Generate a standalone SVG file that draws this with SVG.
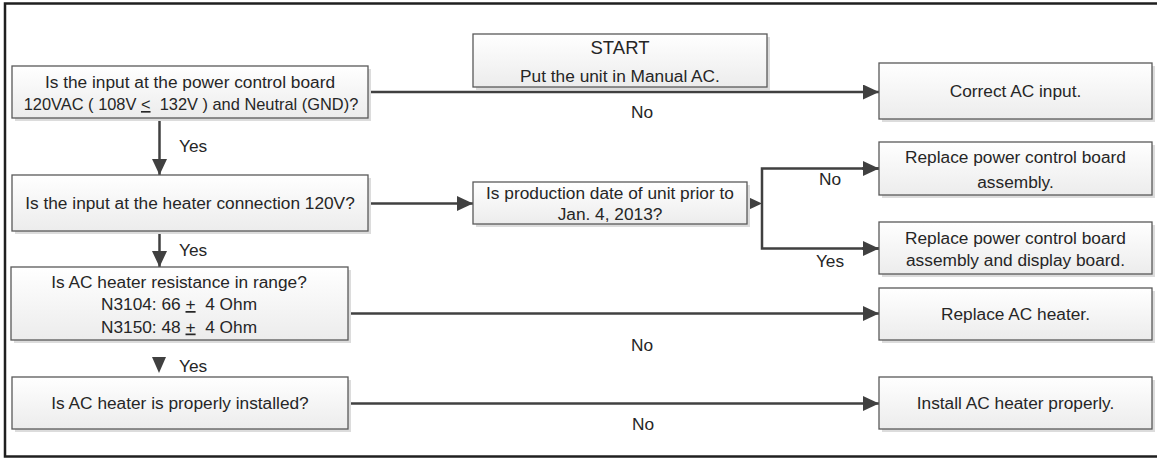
<svg xmlns="http://www.w3.org/2000/svg" width="1157" height="459" viewBox="0 0 1157 459">
<defs>
<linearGradient id="fillg" x1="0" y1="0" x2="0" y2="1">
<stop offset="0" stop-color="#ffffff"/>
<stop offset="1" stop-color="#ececec"/>
</linearGradient>
<marker id="arr" markerUnits="userSpaceOnUse" markerWidth="17" markerHeight="16" refX="16" refY="7.5" orient="auto">
<path d="M0,0 L16,7.5 L0,15 Z" fill="#404040"/>
</marker>
</defs>
<style>
.box{fill:url(#fillg);stroke:#595959;stroke-width:1.3}
.sh{fill:#dcdcdc}
text{font-family:"Liberation Sans",Arial,sans-serif;font-size:17.3px;fill:#262626;text-anchor:middle;white-space:pre}
.lbl{text-anchor:start}
.big{font-size:18.5px}
.sm{font-size:16.4px}
.ln{fill:none;stroke:#404040;stroke-width:2.5}
.u{text-decoration:underline}
</style>
<rect x="5" y="3.5" width="1170" height="453" fill="#ffffff" stroke="#1f1f1f" stroke-width="2.5"/>

<g id="connectors">
<path class="ln" d="M368,92 H879" marker-end="url(#arr)"/>
<path class="ln" d="M159.5,118 V175" marker-end="url(#arr)"/>
<path class="ln" d="M368,203.5 H473" marker-end="url(#arr)"/>
<path class="ln" d="M159.5,231 V267" marker-end="url(#arr)"/>
<path d="M747,196.5 L762,203.5 L747,210.5 Z" fill="#404040"/>
<path class="ln" d="M879,168.5 H762 V248.5 H879"/>
<path class="ln" d="M862,168.5 H879" marker-end="url(#arr)"/>
<path class="ln" d="M862,248.5 H879" marker-end="url(#arr)"/>
<path class="ln" d="M347.5,313.5 H879" marker-end="url(#arr)"/>
<path d="M152,357 L166,357 L159,373 Z" fill="#404040"/>
<path class="ln" d="M347.5,403.5 H879" marker-end="url(#arr)"/>
<text x="642" y="118">No</text>
<text class="lbl" x="179" y="152">Yes</text>
<text class="lbl" x="179" y="256">Yes</text>
<text x="830" y="185">No</text>
<text x="830" y="267">Yes</text>
<text x="642" y="351">No</text>
<text class="lbl" x="179" y="372">Yes</text>
<text x="643" y="430">No</text>
</g>

<g id="start">
<rect class="sh" x="476" y="37" width="294" height="53"/>
<rect class="box" x="473" y="34" width="294" height="53"/>
<text class="big" x="620" y="54">START</text>
<text x="620" y="82">Put the unit in Manual AC.</text>
</g>

<g id="q1">
<rect class="sh" x="15" y="69" width="356" height="52"/>
<rect class="box" x="12" y="66" width="356" height="52"/>
<text x="190" y="87.5">Is the input at the power control board</text>
<text class="sm" x="191" y="110">120VAC ( 108V <tspan class="u">&lt;</tspan>  132V ) and Neutral (GND)?</text>
</g>

<g id="correct_ac">
<rect class="sh" x="882" y="66" width="273" height="56"/>
<rect class="box" x="879" y="63" width="273" height="56"/>
<text x="1015.5" y="97">Correct AC input.</text>
</g>

<g id="q2">
<rect class="sh" x="15" y="178" width="356" height="56"/>
<rect class="box" x="12" y="175" width="356" height="56"/>
<text x="190" y="209">Is the input at the heater connection 120V?</text>
</g>

<g id="q_date">
<rect class="sh" x="476" y="185" width="274" height="42"/>
<rect class="box" x="473" y="182" width="274" height="42"/>
<text x="610" y="198.5">Is production date of unit prior to</text>
<text x="610" y="219.5">Jan. 4, 2013?</text>
</g>

<g id="replace_pcb">
<rect class="sh" x="882" y="145" width="273" height="53"/>
<rect class="box" x="879" y="142" width="273" height="53"/>
<text x="1015.5" y="162.5">Replace power control board</text>
<text x="1015.5" y="187.5">assembly.</text>
</g>

<g id="replace_pcb_display">
<rect class="sh" x="882" y="225" width="273" height="52"/>
<rect class="box" x="879" y="222" width="273" height="52"/>
<text x="1015.5" y="243.5">Replace power control board</text>
<text x="1015.5" y="266">assembly and display board.</text>
</g>

<g id="q3">
<rect class="sh" x="14" y="270" width="337" height="73"/>
<rect class="box" x="11" y="267" width="337" height="73"/>
<text x="179" y="288">Is AC heater resistance in range?</text>
<text x="179" y="310">N3104: 66 <tspan class="u">+</tspan>  4 Ohm</text>
<text x="179" y="332.5">N3150: 48 <tspan class="u">+</tspan>  4 Ohm</text>
</g>

<g id="replace_heater">
<rect class="sh" x="882" y="291" width="273" height="52"/>
<rect class="box" x="879" y="288" width="273" height="52"/>
<text x="1015.5" y="320">Replace AC heater.</text>
</g>

<g id="q4">
<rect class="sh" x="15" y="380" width="336" height="52"/>
<rect class="box" x="12" y="377" width="336" height="52"/>
<text x="180" y="409">Is AC heater is properly installed?</text>
</g>

<g id="install_heater">
<rect class="sh" x="882" y="380" width="273" height="52"/>
<rect class="box" x="879" y="377" width="273" height="52"/>
<text x="1015.5" y="409">Install AC heater properly.</text>
</g>
</svg>
